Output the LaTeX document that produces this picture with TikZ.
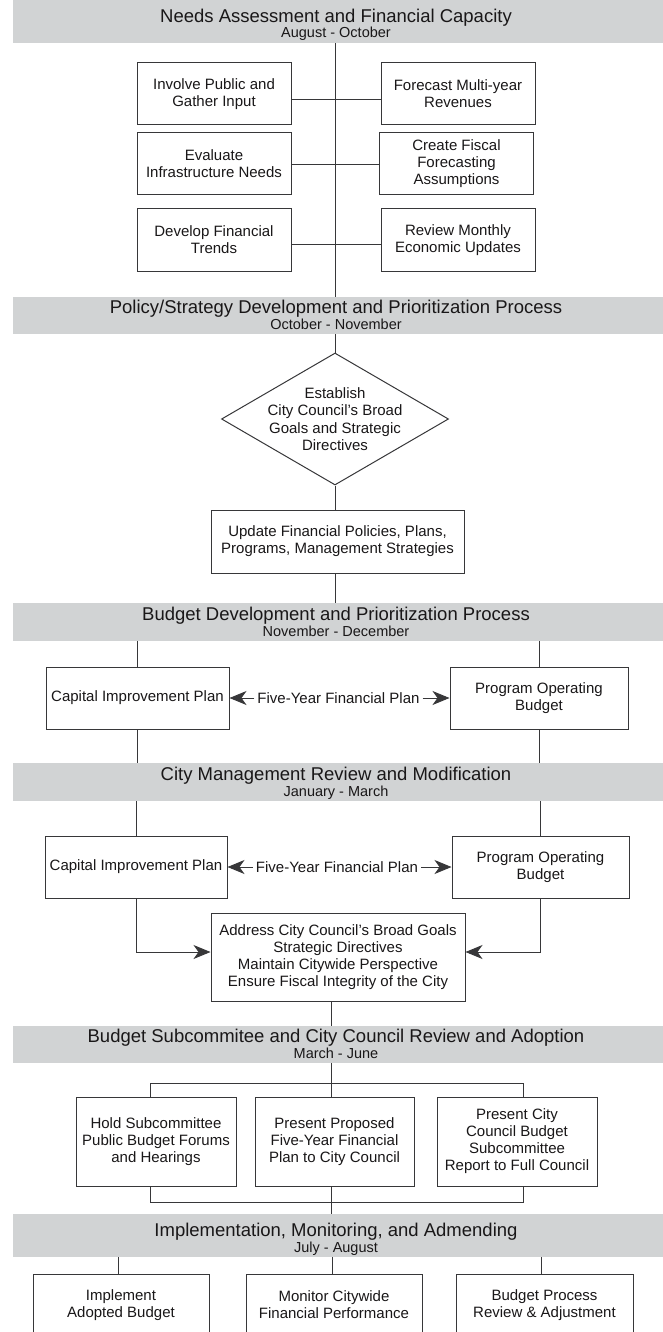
\documentclass[tikz,border=0pt]{standalone}
\usepackage{fontspec}
\setmainfont{Liberation Sans}
\usetikzlibrary{arrows.meta,positioning,shapes.geometric,calc}
\definecolor{bandgrey}{RGB}{209,211,212}
\definecolor{inkgrey}{RGB}{25,23,24}
\definecolor{linegrey}{RGB}{55,55,57}
\tikzset{
  phase/.style   ={rectangle, fill=bandgrey, minimum width=652pt, inner sep=0pt,
                   anchor=north west},
  phasettl/.style={anchor=base, inner sep=0pt, text=inkgrey,
                   font=\fontsize{18.5}{22}\selectfont},
  phasesub/.style={anchor=base, inner sep=0pt, text=inkgrey,
                   font=\fontsize{14.5}{17}\selectfont},
  task/.style    ={rectangle, draw=linegrey, line width=1pt, fill=white, text=inkgrey,
                   align=center, inner sep=2pt, minimum width=154pt, minimum height=62pt,
                   font=\fontsize{15}{17}\selectfont},
  goal/.style    ={diamond, draw=linegrey, line width=1pt, fill=white, inner sep=0pt,
                   minimum width=227pt, minimum height=132pt},
  plain/.style   ={inner sep=3pt, text=inkgrey, align=center,
                   font=\fontsize{15}{17.5}\selectfont},
  conn/.style    ={line width=0.9pt, linegrey},
  arr/.style     ={conn, -{Stealth[length=17pt, width=14pt, inset=5pt]}},
}
\begin{document}
\begin{tikzpicture}[x=1pt, y=-1pt]
  \useasboundingbox (0,0) rectangle (662,1332);
  \coordinate (spineA) at (335,0);
  \coordinate (spineB) at (331.5,0);

  % phase bands
  \foreach \n/\ya/\yb/\ttl/\sub in {
      1/0/43/{Needs Assessment and Financial Capacity}/{August - October},
      2/297/334/{Policy/Strategy Development and Prioritization Process}/{October - November},
      3/603/641/{Budget Development and Prioritization Process}/{November - December},
      4/763/801/{City Management Review and Modification}/{January - March},
      5/1026/1063/{Budget Subcommitee and City Council Review and Adoption}/{March - June},
      6/1214/1257/{Implementation, Monitoring, and Admending}/{July - August}} {
    \node[phase, minimum height={\yb-\ya}] (ph\n) at (13,\ya) {};
    \node[phasettl] (ttl\n) at (336,\yb-20.5) {\ttl};
    \node[phasesub] (sub\n) at (336,\yb-5) {\sub};
  }

  % needs assessment
  \node[task] (pub)   at (214,94)    {Involve Public and\\Gather Input};
  \node[task] (infra) at (214,164)   {Evaluate\\Infrastructure Needs};
  \node[task] (trend) at (214,240)   {Develop Financial\\Trends};
  \node[task] (rev)   at (458,94)    {Forecast Multi-year\\Revenues};
  \node[task] (assum) at (456.5,164) {Create Fiscal\\Forecasting\\Assumptions};
  \node[task] (econ)  at (458,240)   {Review Monthly\\Economic Updates};
  \draw[conn] (spineA |- ph1.south) -- (spineA |- ph2.north);
  \foreach \l/\r/\d in {pub/rev/-5, infra/assum/0, trend/econ/-4}
    \draw[conn] ([yshift=\d pt]\l.east) -- ([yshift=\d pt]\r.west);

  % policy / strategy
  \node[goal] (goals) at (335,419) {};
  \node[plain, inner sep=0pt] (goalstxt) at (goals.center) {Establish\\City Council's Broad\\Goals and Strategic\\Directives};
  \node[task, minimum width=253pt, minimum height=63pt] (policy) at (337.5,541.5)
       {Update Financial Policies, Plans,\\Programs, Management Strategies};
  \draw[conn] (ph2.south -| goals.north) -- (goals.north);
  \draw[conn] (goals.south) -- (goals.south |- policy.north);
  \draw[conn] (goals.south |- policy.south) -- (goals.south |- ph3.north);

  % budget development
  \node[task, minimum width=183pt] (cipA) at (137.5,698) {Capital Improvement Plan};
  \node[task, minimum width=178pt] (opbA) at (539,698)   {Program Operating\\Budget};
  \node[plain] (fypA) at (338.5,698) {Five-Year Financial Plan};
  \draw[arr] (fypA) -- (cipA);
  \draw[arr] (fypA) -- (opbA);
  \foreach \b in {cipA, opbA} {
    \draw[conn] (ph3.south -| \b.north) -- (\b.north);
    \draw[conn] (\b.south) -- (\b.south |- ph4.north);
  }

  % city management review
  \node[task, minimum width=182pt] (cipB) at (136,867)   {Capital Improvement Plan};
  \node[task, minimum width=177pt] (opbB) at (540.5,867) {Program Operating\\Budget};
  \node[plain] (fypB) at (337,867) {Five-Year Financial Plan};
  \node[task, minimum width=254pt, minimum height=88pt] (focus) at (338,957)
       {Address City Council's Broad Goals\\Strategic Directives\\Maintain Citywide Perspective\\Ensure Fiscal Integrity of the City};
  \draw[arr] (fypB) -- (cipB);
  \draw[arr] (fypB) -- (opbB);
  \foreach \b in {cipB, opbB}
    \draw[conn] (ph4.south -| \b.north) -- (\b.north);
  \draw[arr] (cipB.south) |- ([yshift=5pt]focus.west);
  \draw[arr] (opbB.south) |- ([yshift=5pt]focus.east);
  \draw[conn] (spineB |- focus.south) -- (spineB |- ph5.north);

  % subcommittee and council
  \coordinate (barT) at (331.5,1083);
  \coordinate (barB) at (331.5,1202);
  \node[task, minimum width=160pt, minimum height=89pt] (forum)   at (156,1141.5)
       {Hold Subcommittee\\Public Budget Forums\\and Hearings};
  \node[task, minimum width=159pt, minimum height=89pt] (present) at (334.5,1141.5)
       {Present Proposed\\Five-Year Financial\\Plan to City Council};
  \node[task, minimum width=160pt, minimum height=89pt] (report)  at (517,1141.5)
       {Present City\\Council Budget\\Subcommittee\\Report to Full Council};
  \draw[conn] (spineB |- ph5.south) -- (barT) -- (barT |- present.north);
  \draw[conn] ([xshift=-6pt]forum.north) |- (barT) -| ([xshift=6pt]report.north);
  \draw[conn] ([xshift=-6pt]forum.south) |- (barB) -| ([xshift=6pt]report.south);
  \draw[conn] (barB |- present.south) -- (barB) -- (barB |- ph6.north);

  % implementation
  \node[task, minimum width=176pt] (impl)    at (121,1305)   {Implement\\Adopted Budget};
  \node[task, minimum width=176pt] (monitor) at (334,1305)   {Monitor Citywide\\Financial Performance};
  \node[task, minimum width=177pt] (review)  at (544.5,1305) {Budget Process\\Review \& Adjustment};
  \foreach \b/\s in {impl/-3, monitor/-2, review/-3.5}
    \draw[conn] ([xshift=\s pt]\b.north) -- ([xshift=\s pt]\b.north |- ph6.south);
\end{tikzpicture}
\end{document}
